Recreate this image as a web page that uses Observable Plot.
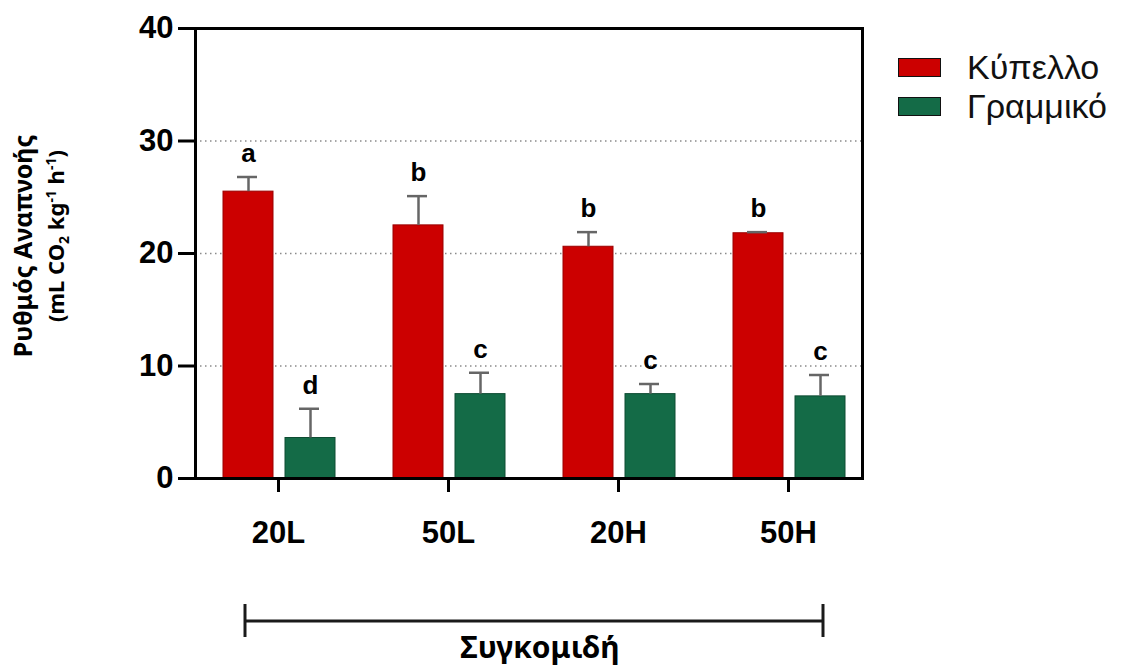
<!DOCTYPE html>
<html>
<head>
<meta charset="utf-8">
<script src="https://cdn.jsdelivr.net/npm/d3@7"></script>
<script src="https://cdn.jsdelivr.net/npm/@observablehq/plot@0.6"></script>
<style>
  html, body { margin: 0; padding: 0; background: #fff; }
  #wrap { position: relative; width: 1137px; height: 668px; }
  .leg { position: absolute; font-family: "Liberation Sans", Arial, sans-serif; font-size: 34px; line-height: 34px; color: #111; display: flex; align-items: center; }
  .leg span { line-height: 34px; display: inline-block; height: 34px; }
  .sw { width: 43px; height: 19px; border: 1.5px solid #111; box-sizing: border-box; margin-right: 26px; }
</style>
</head>
<body>
<div id="wrap"></div>
<script>
const categories = ["20L", "50L", "20H", "50H"];
const seriesNames = ["Κύπελλο", "Γραμμικό"];
const kypello = [25.5, 22.5, 20.6, 21.8];
const kypelloErr = [1.3, 2.6, 1.3, 0.1];
const kypelloLetters = ["a", "b", "b", "b"];
const grammiko = [3.6, 7.5, 7.5, 7.3];
const grammikoErr = [2.6, 1.9, 0.9, 1.9];
const grammikoLetters = ["d", "c", "c", "c"];
const yTicks = [0, 10, 20, 30, 40];
const gridTicks = [10, 20, 30];
const colors = ["#cc0000", "#146b47"];
const strokes = ["#9a0000", "#0d4c32"];

const redRows = categories.map((c, i) => ({cat: c, value: kypello[i], top: kypello[i] + kypelloErr[i], letter: kypelloLetters[i]}));
const greenRows = categories.map((c, i) => ({cat: c, value: grammiko[i], top: grammiko[i] + grammikoErr[i], letter: grammikoLetters[i]}));

const font = "'Liberation Sans', Arial, sans-serif";

const chart = Plot.plot({
  width: 1137,
  height: 668,
  marginLeft: 195,
  marginRight: 275,
  marginTop: 28,
  marginBottom: 190,
  style: {fontFamily: font, background: "white", color: "black"},
  x: {type: "band", domain: categories, range: [193, 873], padding: 0},
  y: {domain: [0, 40]},
  marks: [
    Plot.gridY(gridTicks, {stroke: "#8a8a8a", strokeOpacity: 1, strokeWidth: 1.5, strokeDasharray: "1.5,3.5"}),
    Plot.barY(redRows, {x: "cat", y: "value", fill: colors[0], stroke: strokes[0], strokeWidth: 1, insetLeft: 30, insetRight: 90}),
    Plot.barY(greenRows, {x: "cat", y: "value", fill: colors[1], stroke: strokes[1], strokeWidth: 1, insetLeft: 92, insetRight: 28}),
    Plot.ruleX(redRows, {x: "cat", y1: "value", y2: "top", dx: -30, stroke: "#666", strokeWidth: 2.5}),
    Plot.ruleX(greenRows, {x: "cat", y1: "value", y2: "top", dx: 32, stroke: "#666", strokeWidth: 2.5}),
    Plot.tickY(redRows, {x: "cat", y: "top", insetLeft: 44, insetRight: 106, stroke: "#666", strokeWidth: 2.5}),
    Plot.tickY(greenRows, {x: "cat", y: "top", insetLeft: 106, insetRight: 44, stroke: "#666", strokeWidth: 2.5}),
    Plot.text(redRows, {x: "cat", y: "top", text: "letter", dx: -30, dy: -23, fontSize: 26, fontWeight: "bold", fill: "black"}),
    Plot.text(greenRows, {x: "cat", y: "top", text: "letter", dx: 32, dy: -23, fontSize: 26, fontWeight: "bold", fill: "black"}),
    Plot.frame({stroke: "black", strokeWidth: 3}),
    Plot.axisY({ticks: yTicks, tickSize: 17, tickPadding: 5, fontSize: 31, fontWeight: "bold", strokeWidth: 3, label: null, tickFormat: d => String(d)}),
    Plot.axisX({tickSize: 14, tickPadding: 28, fontSize: 31, fontWeight: "bold", strokeWidth: 3, label: null})
  ]
});

const wrap = document.getElementById("wrap");
wrap.appendChild(chart);

// Axis titles and bracket (decoration)
const svg = d3.select(chart);
const tf = "'Noto Sans', 'Open Sans', sans-serif";
svg.append("text")
  .attr("transform", "translate(32,246) rotate(-90)")
  .attr("text-anchor", "middle")
  .attr("font-family", tf).attr("font-weight", "bold").attr("font-size", 25).attr("fill", "black")
  .text("Ρυθμός Αναπνοής");
const t2 = svg.append("text")
  .attr("transform", "translate(64,236) rotate(-90)")
  .attr("text-anchor", "middle")
  .attr("font-family", tf).attr("font-weight", "bold").attr("font-size", 22).attr("fill", "black");
t2.append("tspan").text("(mL CO");
t2.append("tspan").attr("font-size", 14).attr("dy", 5).text("2");
t2.append("tspan").attr("dy", -5).text(" kg");
t2.append("tspan").attr("font-size", 14).attr("dy", -8).text("-1");
t2.append("tspan").attr("dy", 8).text(" h");
t2.append("tspan").attr("font-size", 14).attr("dy", -8).text("-1");
t2.append("tspan").attr("dy", 8).text(")");

const br = svg.append("g").attr("stroke", "#1a1a1a").attr("stroke-width", 3);
br.append("line").attr("x1", 245).attr("x2", 823).attr("y1", 621).attr("y2", 621);
br.append("line").attr("x1", 245).attr("x2", 245).attr("y1", 604).attr("y2", 637);
br.append("line").attr("x1", 823).attr("x2", 823).attr("y1", 604).attr("y2", 637);
svg.append("text")
  .attr("x", 540).attr("y", 658)
  .attr("text-anchor", "middle")
  .attr("font-family", tf).attr("font-weight", "bold").attr("font-size", 30).attr("fill", "black")
  .text("Συγκομιδή");

// Legend
seriesNames.forEach((name, i) => {
  const d = document.createElement("div");
  d.className = "leg";
  d.style.left = "898px";
  d.style.top = (i === 0 ? 50 : 89) + "px";
  d.style.height = "34px";
  const s = document.createElement("div");
  s.className = "sw";
  s.style.background = colors[i];
  d.appendChild(s);
  const t = document.createElement("span");
  t.textContent = name;
  d.appendChild(t);
  wrap.appendChild(d);
});
</script>
</body>
</html>
